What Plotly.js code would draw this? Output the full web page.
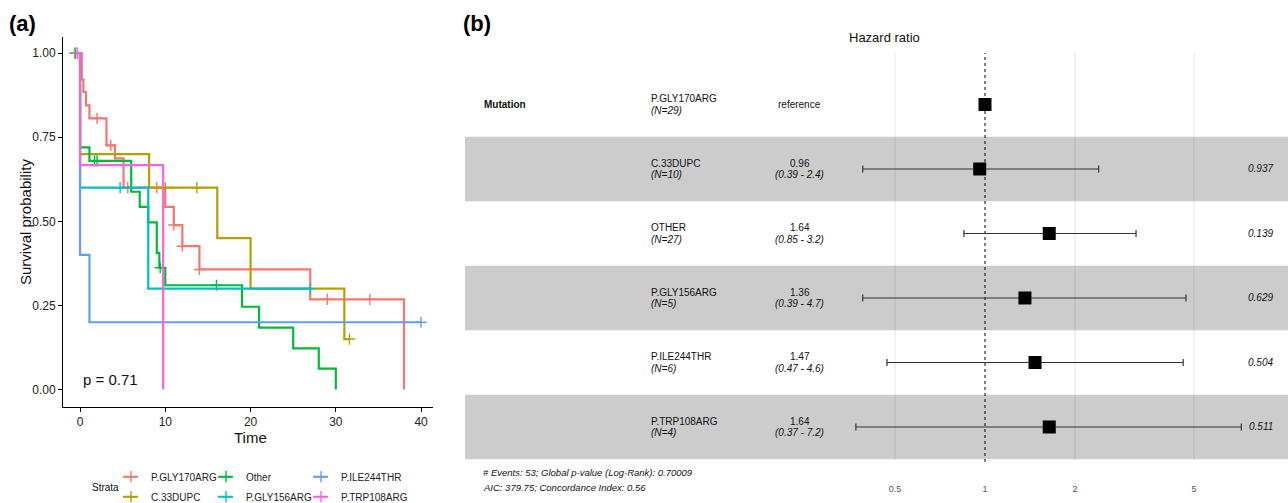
<!DOCTYPE html>
<html><head><meta charset="utf-8">
<script src="https://cdn.plot.ly/plotly-3.0.1.min.js"></script>
<style>html,body{margin:0;padding:0;background:#fff;overflow:hidden}#chart{width:1288px;height:503px}</style>
</head><body><div id="chart"></div>
<script>
// ---------- Kaplan-Meier data (panel a) ----------
const strataNames  = ['P.GLY170ARG','C.33DUPC','Other','P.GLY156ARG','P.ILE244THR','P.TRP108ARG'];
const strataColors = ['#F8766D','#B79F00','#00BA38','#00BFC4','#619CFF','#F564E3'];

const gly170Time = [0.2, 0.4, 0.7, 1.1, 3.1, 4.1, 5.1, 10, 11, 12, 14, 27, 38];
const gly170Surv = [0.922, 0.885, 0.845, 0.806, 0.726, 0.687, 0.600, 0.543, 0.489, 0.426, 0.357, 0.268, 0];
const gly170Cens = [-0.5, 2.0, 3.6, 5.6, 9.0, 11, 12, 14, 29, 34];

const dupcTime = [0, 8.1, 16.1, 20, 31];
const dupcSurv = [0.70, 0.60, 0.45, 0.30, 0.15];
const dupcCens = [10.0, 13.7, 31.6];

const otherTime = [0, 1.1, 6, 7, 8, 9, 9.3, 10, 19, 21, 25, 28, 30];
const otherSurv = [0.72, 0.68, 0.588, 0.543, 0.497, 0.406, 0.362, 0.310, 0.246, 0.184, 0.122, 0.062, 0];
const otherCens = [-0.6, 1.7, 2.0, 9.4, 16];

const gly156Time = [0, 8];
const gly156Surv = [0.60, 0.30];
const gly156Cens = [4.7, 27];

const ile244Time = [0, 1.1];
const ile244Surv = [0.40, 0.20];
const ile244Cens = [40];

const trp108Time = [0, 9.75];
const trp108Surv = [0.667, 0];
const trp108Cens = [-0.3];

const kmTimes = [gly170Time, dupcTime, otherTime, gly156Time, ile244Time, trp108Time];
const kmSurvs = [gly170Surv, dupcSurv, otherSurv, gly156Surv, ile244Surv, trp108Surv];
const kmCens  = [gly170Cens, dupcCens, otherCens, gly156Cens, ile244Cens, trp108Cens];

const kmXTicks = [0, 10, 20, 30, 40];
const kmYTicks = [0, 0.25, 0.5, 0.75, 1];
const pValueText = 'p = 0.71';

// ---------- Cox model data (panel b) ----------
const hrNames = ['P.GLY170ARG','C.33DUPC','OTHER','P.GLY156ARG','P.ILE244THR','P.TRP108ARG'];
const hrN     = [29, 10, 27, 5, 6, 4];
const hrEst   = [1, 0.96, 1.64, 1.36, 1.47, 1.64];
const hrLow   = [null, 0.39, 0.85, 0.39, 0.47, 0.37];
const hrHigh  = [null, 2.4, 3.2, 4.7, 4.6, 7.2];
const hrP     = [null, 0.937, 0.139, 0.629, 0.504, 0.511];
const hrTicks = [0.5, 1, 2, 5];
const hrGrid  = [0.5, 2, 5];
const footerLines = ['# Events: 53; Global p-value (Log-Rank): 0.70009', 'AIC: 379.75; Concordance Index: 0.56'];

// ---------- helpers ----------
const W = 1288, H = 503;
const px = v => v / W;
const py = v => 1 - v / H;
const FONT = 'Liberation Sans, Arial, sans-serif';

function stepXY(times, surv, cens) {
  const x = [0], y = [1];
  for (let i = 0; i < times.length; i++) { x.push(times[i]); y.push(surv[i]); }
  const lastT = Math.max(times[times.length - 1], ...cens);
  if (lastT > x[x.length - 1]) { x.push(lastT); y.push(y[y.length - 1]); }
  return {x, y};
}
function survAt(times, surv, t) {
  let s = 1;
  for (let i = 0; i < times.length; i++) if (times[i] <= t) s = surv[i];
  return s;
}

const traces = [];
const layout = {
  width: W, height: H, margin: {l: 0, r: 0, t: 0, b: 0, autoexpand: false},
  paper_bgcolor: '#fff', plot_bgcolor: 'rgba(0,0,0,0)',
  font: {family: FONT, color: '#222'},
  showlegend: true,
  xaxis: {domain: [px(63), px(433)], anchor: 'y', range: [-2, 41.4], tickvals: kmXTicks,
          showline: true, linecolor: '#000', linewidth: 1, ticks: 'outside', ticklen: 4, tickcolor: '#000',
          tickfont: {size: 12, color: '#222'}, showgrid: false, zeroline: false},
  yaxis: {domain: [py(407), py(37)], anchor: 'x', range: [-0.052, 1.048], tickvals: kmYTicks,
          ticktext: kmYTicks.map(v => v.toFixed(2)),
          showline: true, linecolor: '#000', linewidth: 1, ticks: 'outside', ticklen: 4, tickcolor: '#000',
          tickfont: {size: 12, color: '#222'}, showgrid: false, zeroline: false},
  xaxis2: {domain: [px(465), 1], anchor: 'y2', type: 'log',
           range: [(465 - 985) / 299, (1288 - 985) / 299],
           tickvals: hrTicks, ticktext: hrTicks.map(String), ticks: '', showgrid: false,
           zeroline: false, showline: false, tickfont: {size: 9, color: '#555'}, ticklabelstandoff: 22},
  yaxis2: {domain: [py(460), py(53)], anchor: 'x2', range: [6.512, 0.2016],
           showticklabels: false, ticks: '', showgrid: false, zeroline: false, showline: false},
  shapes: [], annotations: []
};

// KM step curves + censor marks
strataNames.forEach((name, i) => {
  const s = stepXY(kmTimes[i], kmSurvs[i], kmCens[i]);
  traces.push({type: 'scatter', mode: 'lines', x: s.x, y: s.y, xaxis: 'x', yaxis: 'y',
               line: {shape: 'hv', color: strataColors[i], width: 2.2}, showlegend: false, hoverinfo: 'skip'});
  traces.push({type: 'scatter', mode: 'markers', x: kmCens[i], y: kmCens[i].map(t => survAt(kmTimes[i], kmSurvs[i], t)),
               xaxis: 'x', yaxis: 'y', showlegend: false, hoverinfo: 'skip',
               marker: {symbol: 'cross-thin', size: 8, line: {color: strataColors[i], width: 1.4}}});
});

// legend entries (3 columns x 2 rows, filled column-wise like ggplot)
strataNames.forEach((name, i) => {
  const col = Math.floor(i / 2), row = i % 2;
  const lid = i === 0 ? 'legend' : 'legend' + (i + 1);
  traces.push({type: 'scatter', mode: 'lines+markers', x: [null], y: [null], xaxis: 'x', yaxis: 'y',
               name: name, legend: lid, showlegend: true,
               line: {color: strataColors[i], width: 2, dash: '0px,7px,15px,40px'},
               marker: {symbol: 'cross-thin', size: 8, line: {color: strataColors[i], width: 1.4}}});
  layout[lid] = {x: px(111 + 95 * col), y: py(476.7 + 20 * row), xanchor: 'left', yanchor: 'middle',
                 orientation: 'h', bgcolor: 'rgba(0,0,0,0)', borderwidth: 0,
                 font: {size: 10, color: '#222', family: FONT}};
});

// Forest: bands, grid, reference line
hrNames.forEach((n, i) => {
  if (i % 2 === 1) layout.shapes.push({type: 'rect', xref: 'paper', yref: 'y2', x0: px(465), x1: 1,
                     y0: i + 1 - 0.5, y1: i + 1 + 0.5, fillcolor: '#cccccc', line: {width: 0}, layer: 'below'});
});
hrGrid.forEach(v => layout.shapes.push({type: 'line', xref: 'x2', yref: 'paper', x0: v, x1: v,
                     y0: py(460), y1: py(53), line: {color: 'rgba(0,0,0,0.1)', width: 1}, layer: 'below'}));
layout.shapes.push({type: 'line', xref: 'x2', yref: 'paper', x0: 1, x1: 1, y0: py(462), y1: py(53),
                    line: {color: '#000', width: 1, dash: 'dot'}, layer: 'below'});

// Forest points with CIs
traces.push({type: 'scatter', mode: 'markers', xaxis: 'x2', yaxis: 'y2', showlegend: false, hoverinfo: 'skip',
             x: hrEst, y: hrNames.map((n, i) => i + 1),
             error_x: {type: 'data', symmetric: false,
                       array: hrEst.map((v, i) => hrHigh[i] === null ? null : hrHigh[i] - v),
                       arrayminus: hrEst.map((v, i) => hrLow[i] === null ? null : v - hrLow[i]),
                       color: '#333', thickness: 1.2, width: 3.5},
             marker: {symbol: 'square', size: 13, color: '#000'}});

// Table text
const A = layout.annotations;
const tf = (size, extra) => Object.assign({family: FONT, size: size, color: '#111'}, extra || {});
A.push({xref: 'paper', yref: 'y2', x: px(482), y: 1, xanchor: 'left', yanchor: 'middle', showarrow: false,
        text: '<b>Mutation</b>', font: tf(10)});
hrNames.forEach((n, i) => {
  const r = i + 1;
  A.push({xref: 'paper', yref: 'y2', x: px(649), y: r, yshift: 5.5, xanchor: 'left', yanchor: 'middle',
          showarrow: false, text: n, font: tf(10)});
  A.push({xref: 'paper', yref: 'y2', x: px(649), y: r, yshift: -6, xanchor: 'left', yanchor: 'middle',
          showarrow: false, text: '<i>(N=' + hrN[i] + ')</i>', font: tf(10)});
  if (hrLow[i] === null) {
    A.push({xref: 'paper', yref: 'y2', x: px(800), y: r, xanchor: 'center', yanchor: 'middle',
            showarrow: false, text: 'reference', font: tf(10)});
  } else {
    A.push({xref: 'paper', yref: 'y2', x: px(800), y: r, yshift: 5.5, xanchor: 'center', yanchor: 'middle',
            showarrow: false, text: hrEst[i].toFixed(2), font: tf(10)});
    A.push({xref: 'paper', yref: 'y2', x: px(800), y: r, yshift: -6, xanchor: 'center', yanchor: 'middle',
            showarrow: false, text: '<i>(' + hrLow[i].toPrecision(2) + ' - ' + hrHigh[i].toPrecision(2) + ')</i>', font: tf(10)});
    A.push({xref: 'paper', yref: 'y2', x: px(1275), y: r, xanchor: 'right', yanchor: 'middle',
            showarrow: false, text: '<i>' + hrP[i].toFixed(3) + '</i>', font: tf(10)});
  }
});
footerLines.forEach((t, k) => A.push({xref: 'paper', yref: 'paper', x: px(481), y: py(472.7 + 15 * k),
        xanchor: 'left', yanchor: 'middle', showarrow: false, text: '<i>' + t + '</i>', font: tf(9.5)}));
A.push({xref: 'paper', yref: 'paper', x: px(884), y: py(38), xanchor: 'center', yanchor: 'middle',
        showarrow: false, text: 'Hazard ratio', font: tf(13)});

// Panel a titles
A.push({xref: 'paper', yref: 'paper', x: px(250), y: py(437), xanchor: 'center', yanchor: 'middle',
        showarrow: false, text: 'Time', font: tf(15)});
A.push({xref: 'paper', yref: 'paper', x: px(25), y: py(222), xanchor: 'center', yanchor: 'middle',
        showarrow: false, text: 'Survival probability', textangle: -90, font: tf(15)});
A.push({xref: 'x', yref: 'y', x: 0.1, y: 0.03, xanchor: 'left', yanchor: 'middle', showarrow: false,
        text: pValueText, font: tf(15)});
A.push({xref: 'paper', yref: 'paper', x: px(121), y: py(487), xanchor: 'right', yanchor: 'middle',
        showarrow: false, text: 'Strata', font: tf(10)});

// Panel labels
A.push({xref: 'paper', yref: 'paper', x: px(7), y: py(23), xanchor: 'left', yanchor: 'middle',
        showarrow: false, text: '<b>(a)</b>', font: tf(22, {color: '#000'})});
A.push({xref: 'paper', yref: 'paper', x: px(461), y: py(23), xanchor: 'left', yanchor: 'middle',
        showarrow: false, text: '<b>(b)</b>', font: tf(22, {color: '#000'})});

Plotly.newPlot('chart', traces, layout, {staticPlot: true, displayModeBar: false});
</script></body></html>
